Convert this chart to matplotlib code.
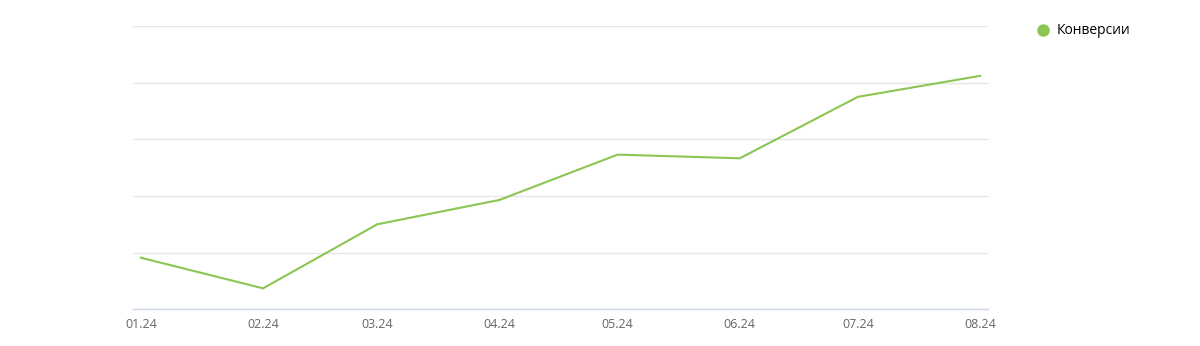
import datetime as dt
import matplotlib.pyplot as plt
import matplotlib.dates as mdates
from matplotlib.lines import Line2D

months = ["01.24", "02.24", "03.24", "04.24", "05.24", "06.24", "07.24", "08.24"]
conversions = [0.91, 0.37, 1.50, 1.93, 2.73, 2.665, 3.75, 4.12]
series_name = "Конверсии"

green = "#8bc652"

plt.rcParams['font.family'] = ['Open Sans', 'DejaVu Sans']

# month labels are MM.YY -> first day of that month (time axis, months differ in length)
dates = [dt.datetime(2000 + int(m[3:]), int(m[:2]), 1) for m in months]

fig = plt.figure(figsize=(12, 3.46), dpi=100)
ax = fig.add_axes([133 / 1200, 1 - 309.3 / 346, (988 - 133) / 1200, (309.3 - 26) / 346])

ax.plot(dates, conversions, color=green, lw=1.5, solid_joinstyle='round')

pad = dt.timedelta(days=2)
ax.set_xlim(dates[0] - pad, dates[-1] + pad)
ax.set_ylim(0, 5)
ax.set_yticks([0, 1, 2, 3, 4, 5])
ax.set_yticklabels([])
ax.tick_params(axis='y', length=0)
ax.grid(axis='y', color='#e6e6e6', lw=1)
ax.set_axisbelow(True)

ax.set_xticks(dates)
ax.set_xticklabels(months, color='#666666', fontsize=9)
ax.tick_params(axis='x', length=0, pad=6)

for side in ['top', 'right', 'left']:
    ax.spines[side].set_visible(False)
ax.spines['bottom'].set_color('#ccd6eb')
ax.spines['bottom'].set_linewidth(1)

handle = Line2D([], [], marker='o', color=green, linestyle='None', markersize=8)
fig.legend([handle], [series_name], loc='center left', bbox_to_anchor=(1022 / 1200, 1 - 31 / 346),
           frameon=False, fontsize=10, handletextpad=0.4, handlelength=1.2)

fig.savefig("out.png", dpi=100)
